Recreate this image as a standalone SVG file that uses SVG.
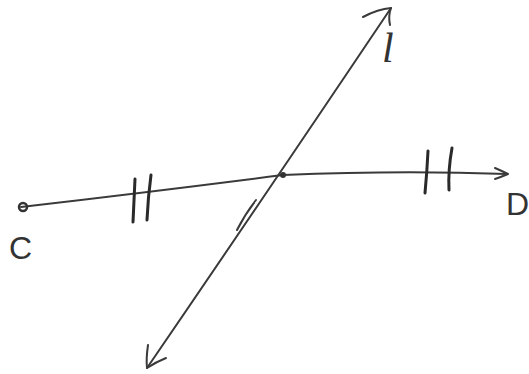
<svg xmlns="http://www.w3.org/2000/svg" width="529" height="374" viewBox="0 0 529 374">
<style>
.ln{fill:none;stroke:#3a3a3a;stroke-width:2;stroke-linecap:round;stroke-linejoin:round}
.tk{fill:none;stroke:#2a2a2a;stroke-width:3;stroke-linecap:round}
.lb{font-family:"Liberation Sans",Arial,sans-serif;font-size:32px;fill:#333}
.sc{font-family:"Liberation Serif","Times New Roman",serif;font-style:italic;font-size:42px;fill:#333}
</style>
<rect width="529" height="374" fill="#fff"/>
<g id="connectors">
<path class="ln" d="M21,207 Q150,192 283,175 Q400,170 507,174"/>
<path class="ln" d="M147,368 Q262,200 391,8"/>
<path class="ln" d="M237,230 Q245,214 256,200"/>
</g>
<g id="arrow-l-top">
<path class="ln" d="M363,17 Q378,9 391,8 Q388,16 390,25"/>
</g>
<g id="arrow-l-bottom">
<path class="ln" d="M148,345 Q146,359 147,368 Q156,362 166,358"/>
</g>
<g id="arrow-D">
<path class="ln" d="M495,168 Q502,171 508,174 Q501,177 495,179"/>
</g>
<g id="point-C">
<circle cx="23" cy="207" r="4" fill="none" stroke="#333" stroke-width="2.5"/>
</g>
<g id="intersection">
<circle cx="283" cy="175" r="3" fill="#333"/>
</g>
<g id="ticks-left">
<path class="tk" d="M135,179 Q134,200 133,222"/>
<path class="tk" d="M151,175 Q148,197 147,220"/>
</g>
<g id="ticks-right">
<path class="tk" d="M428,151 Q427,172 425,193"/>
<path class="tk" d="M452,148 Q448,170 449,190"/>
</g>
<g id="labels">
<text class="lb" x="9" y="259">C</text>
<text class="lb" x="506" y="215">D</text>
<text class="sc" x="382" y="62">l</text>
</g>
</svg>
